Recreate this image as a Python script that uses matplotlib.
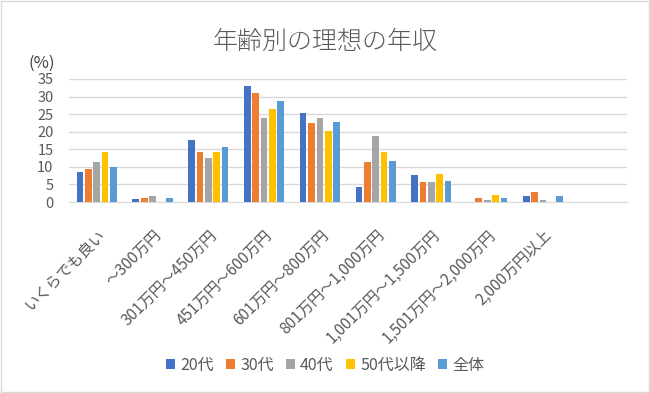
import matplotlib
matplotlib.use('Agg')
import matplotlib.pyplot as plt
import numpy as np

plt.rcParams['font.family'] = ['Noto Sans CJK JP', 'DejaVu Sans']

categories = ['いくらでも良い', '～300万円', '301万円～450万円', '451万円～600万円',
              '601万円～800万円', '801万円～1,000万円', '1,001万円～1,500万円',
              '1,501万円～2,000万円', '2,000万円以上', '']
series_names = ['20代', '30代', '40代', '50代以降', '全体']
v20 = [8.6, 0.9, 17.5, 33.1, 25.3, 4.3, 7.8, 0.0, 1.7, 0.0]
v30 = [9.3, 1.1, 14.3, 31.1, 22.4, 11.5, 5.7, 1.1, 2.8, 0.0]
v40 = [11.5, 1.7, 12.4, 23.8, 23.8, 18.9, 5.7, 0.7, 0.7, 0.0]
v50 = [14.2, 0.0, 14.3, 26.4, 20.2, 14.2, 8.1, 1.9, 0.0, 0.0]
vall = [10.1, 1.1, 15.7, 28.8, 22.9, 11.8, 6.0, 1.0, 1.8, 0.0]
colors = ['#4472C4', '#ED7D31', '#A5A5A5', '#FFC000', '#5B9BD5']

text_gray = '#595959'

fig = plt.figure(figsize=(6.5, 3.93), dpi=100)
ax = fig.add_axes([0.106, 0.486, 0.858, 0.313])

x = np.arange(len(categories))
pitch = 0.15
width = 0.12
for i, (vals, name) in enumerate(zip([v20, v30, v40, v50, vall], series_names)):
    ax.bar(x + (i - 2) * pitch, vals, width, color=colors[i], label=name, zorder=3)

ax.set_xlim(-0.5, len(categories) - 0.5)
ax.set_ylim(0, 35)
ax.set_yticks(range(0, 36, 5))
ax.grid(axis='y', color='#D9D9D9', linewidth=1, zorder=0)
for s in ['top', 'right', 'left']:
    ax.spines[s].set_visible(False)
ax.spines['bottom'].set_color('#D9D9D9')
ax.tick_params(axis='both', length=0, colors=text_gray)
ax.tick_params(axis='y', labelsize=10.5, pad=11)
ax.tick_params(axis='x', pad=18)
ax.set_xticks(x)
ax.set_xticklabels(categories, rotation=45, ha='right', rotation_mode='anchor', fontsize=11)

fig.text(0.5, 0.895, '年齢別の理想の年収', ha='center', va='center', fontsize=18,
         color=text_gray, fontweight='light')
fig.text(0.064, 0.84, '(%)', ha='center', va='center', fontsize=12, color='#404040')

ax.legend(loc='center', bbox_to_anchor=(0.5, 0.07), bbox_transform=fig.transFigure,
          ncol=5, frameon=False, fontsize=11.5, handlelength=0.6, handleheight=0.6,
          columnspacing=0.75, handletextpad=0.3, labelcolor=text_gray)

border = plt.Rectangle((0.002, 0.003), 0.996, 0.994, transform=fig.transFigure,
                       fill=False, edgecolor='#D9D9D9', linewidth=1)
fig.patches.append(border)

fig.savefig('out.png', dpi=100)
